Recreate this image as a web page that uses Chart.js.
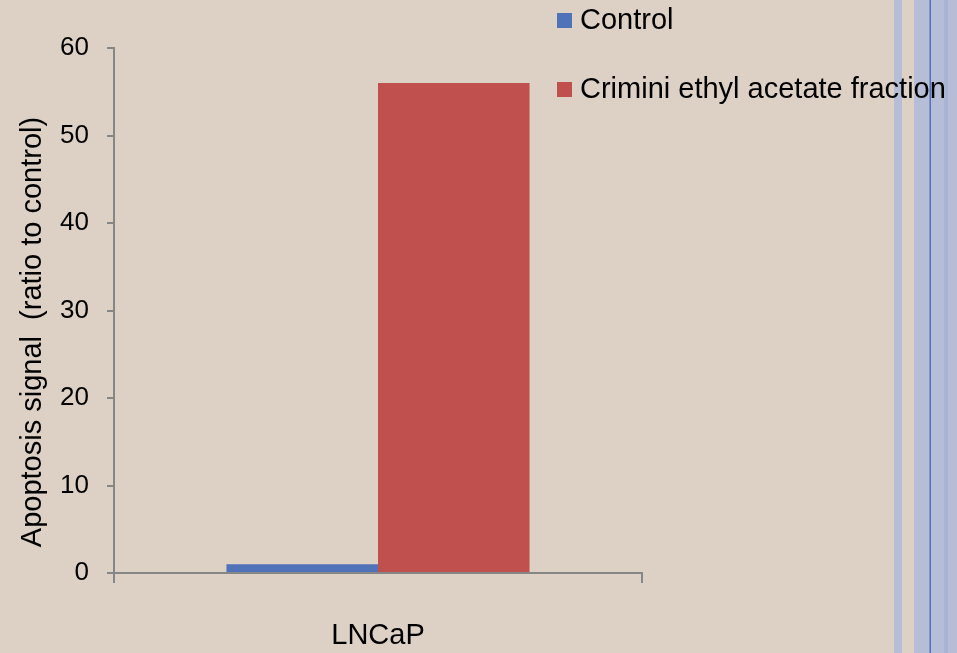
<!DOCTYPE html>
<html>
<head>
<meta charset="utf-8">
<title>Apoptosis signal – LNCaP</title>
<script src="https://cdn.jsdelivr.net/npm/chart.js@4/dist/chart.umd.min.js"></script>
<style>
  html, body { margin: 0; padding: 0; background: #DDD0C4; }
  #wrap { width: 957px; height: 653px; position: relative; }
</style>
</head>
<body>
<div id="wrap"><canvas id="c" width="957" height="653"></canvas></div>
<script>
// Cell line on the category axis
const categories = ['LNCaP'];
// Series names
const seriesNames = ['Control', 'Crimini ethyl acetate fraction'];
// Apoptosis signal, ratio to control
const controlValues = [1];
const criminiValues = [56];
// Value axis ticks
const yTicks = [0, 10, 20, 30, 40, 50, 60];
const yTitle = 'Apoptosis signal  (ratio to control)';

const seriesColors = ['#5072B8', '#C0504D'];
const axisColor = '#868686';
const FONT = '"Liberation Sans", Arial, sans-serif';

// Slide background with the decorative stripes on the right edge
const backdrop = {
  id: 'backdrop',
  beforeDraw(chart) {
    const ctx = chart.ctx;
    ctx.save();
    ctx.fillStyle = '#DDD0C4';
    ctx.fillRect(0, 0, chart.width, chart.height);
    ctx.fillStyle = '#B6BED7';
    ctx.fillRect(894, 0, 8, chart.height);
    ctx.fillRect(914, 0, 43, chart.height);
    ctx.fillStyle = '#A9B4D5';
    ctx.fillRect(944, 0, 4, chart.height);
    ctx.fillStyle = '#5070BE';
    ctx.fillRect(929.5, 0, 1.5, chart.height);
    ctx.restore();
  }
};

// Legend drawn as a vertical list to the upper right of the plot
const sideLegend = {
  id: 'sideLegend',
  afterDraw(chart) {
    const ctx = chart.ctx;
    const rows = [20.5, 89.5];
    ctx.save();
    ctx.font = '29px ' + FONT;
    ctx.textBaseline = 'middle';
    ctx.textAlign = 'left';
    chart.data.datasets.forEach((ds, i) => {
      const cy = rows[i];
      ctx.fillStyle = ds.backgroundColor;
      ctx.fillRect(557, cy - 7.5, 15, 15);
      ctx.fillStyle = '#000';
      ctx.fillText(ds.label, 580, cy);
    });
    ctx.restore();
  }
};

// Rotated value-axis title
const sideTitle = {
  id: 'sideTitle',
  afterDraw(chart) {
    const ctx = chart.ctx;
    ctx.save();
    ctx.translate(33, 332);
    ctx.rotate(-Math.PI / 2);
    ctx.font = '29px ' + FONT;
    ctx.fillStyle = '#000';
    ctx.textAlign = 'center';
    ctx.textBaseline = 'middle';
    ctx.fillText(yTitle, 0, 0);
    ctx.restore();
  }
};

new Chart(document.getElementById('c'), {
  type: 'bar',
  data: {
    labels: categories,
    datasets: [
      { label: seriesNames[0], data: controlValues, backgroundColor: seriesColors[0] },
      { label: seriesNames[1], data: criminiValues, backgroundColor: seriesColors[1] }
    ]
  },
  options: {
    responsive: false,
    animation: false,
    events: [],
    layout: { padding: { left: 0, top: 48, right: 315, bottom: 0 } },
    datasets: { bar: { categoryPercentage: 0.574, barPercentage: 1.0, borderWidth: 0 } },
    plugins: {
      legend: { display: false },
      tooltip: { enabled: false }
    },
    scales: {
      x: {
        afterFit(scale) { scale.height = 80; },
        grid: {
          offset: true,
          drawOnChartArea: false,
          drawTicks: true,
          tickLength: 10,
          color: axisColor,
          lineWidth: 2
        },
        border: { color: axisColor, width: 2 },
        ticks: {
          color: '#000',
          font: { family: FONT, size: 29 },
          padding: 36
        }
      },
      y: {
        min: 0,
        max: 60,
        afterFit(scale) { scale.width = 114; },
        afterBuildTicks(scale) { scale.ticks = yTicks.map(v => ({ value: v })); },
        grid: {
          drawOnChartArea: false,
          drawTicks: true,
          tickLength: 7,
          color: axisColor,
          lineWidth: 2
        },
        border: { color: axisColor, width: 2 },
        ticks: {
          color: '#000',
          font: { family: FONT, size: 26 },
          padding: 18
        }
      }
    }
  },
  plugins: [backdrop, sideLegend, sideTitle]
});
</script>
</body>
</html>
